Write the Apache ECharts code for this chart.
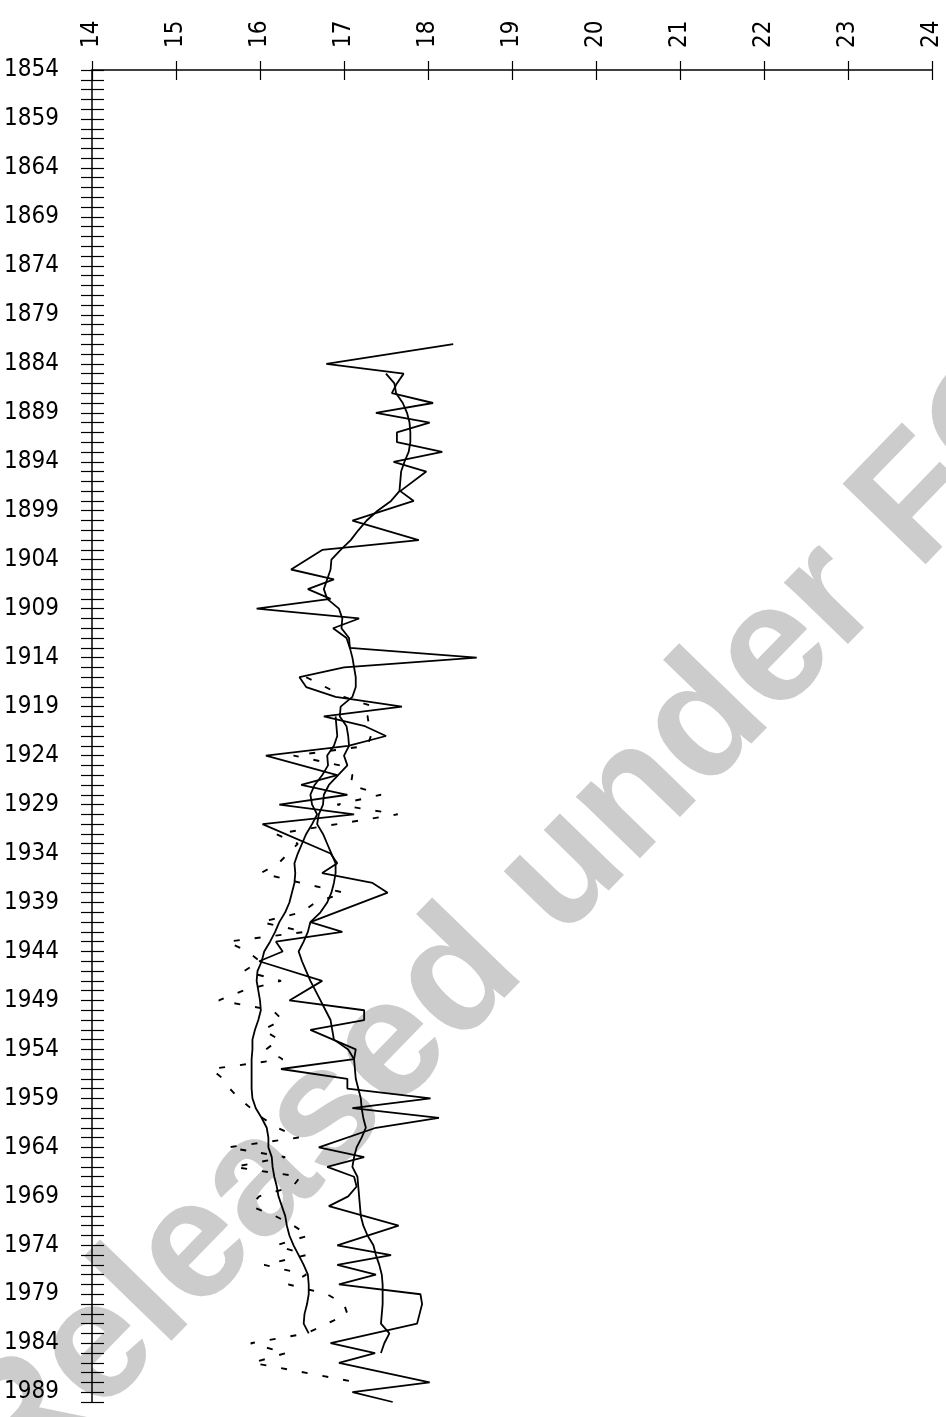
<!DOCTYPE html>
<html>
<head>
<meta charset="utf-8">
<script src="https://cdn.jsdelivr.net/npm/echarts@6/dist/echarts.min.js"></script>
<style>
  html, body { margin: 0; padding: 0; background: #ffffff; }
  #chart { width: 946px; height: 1417px; }
</style>
</head>
<body>
<div id="chart"></div>
<script>
// Year axis (vertical, downward) and value axis (horizontal, top)
const yearMin = 1854;
const yearMax = 1990;
const yearLabelStep = 5;
const valueMin = 14;
const valueMax = 24;

// Annual series 1 (solid), one entry per year from annualSolidStart; null = no point
const annualSolidStart = 1882;
const annualSolid = [
  18.30, null, 16.79, 17.71, 17.63, 17.57, 18.06, 17.38, 18.02, 17.63, // 1882-1891
  17.63, 18.17, 17.59, 17.98, null, 17.67, 17.83, null, 17.10, null,   // 1892-1901
  17.89, 16.74, null, 16.37, 16.88, 16.57, 16.84, 15.96, 17.18, 16.87, // 1902-1911
  17.03, 17.07, 18.58, 17.00, 16.47, 16.55, 16.90, 17.69, 16.76, 17.25, // 1912-1921
  17.50, 17.05, 16.07, null, 16.92, 16.49, 17.04, 16.23, 17.12, 16.03, // 1922-1931
  null, null, 16.84, 16.92, 16.74, 17.34, 17.52, null, null, 16.60,    // 1932-1941
  16.98, 16.19, 16.27, 15.99, null, 16.74, null, 16.35, 17.24, 17.24,  // 1942-1951
  16.60, null, 17.14, 17.12, 16.25, 17.04, 17.04, 18.03, 17.10, 18.13, // 1952-1961
  17.38, null, 16.70, 17.24, 16.80, 17.12, 17.15, 17.05, 16.82, null,  // 1962-1971
  17.65, null, 16.92, 17.56, 16.92, 17.38, 16.94, 17.91, 17.93, 17.90, // 1972-1981
  17.87, null, 16.84, 17.37, 16.94, null, 18.02, 17.10, 17.58          // 1982-1990
];

// Running mean of series 1 (solid, smooth)
const meanSolidStart = 1885;
const meanSolid = [
  17.50, 17.60, 17.62, 17.70, 17.75, 17.78, 17.79, 17.79, 17.77, 17.72, // 1885-1894
  17.68, 17.67, 17.66, 17.56, 17.40, 17.27, 17.17, 17.08, 16.96, 16.85, // 1895-1904
  16.84, 16.80, 16.76, 16.80, 16.94, 16.98, 16.97, 17.06, 17.07, 17.10, // 1905-1914
  17.12, 17.14, 17.14, 17.10, 16.96, 16.95, 17.03, 17.05, 17.06, 17.00, // 1915-1924
  17.04, 16.93, 16.82, 16.76, 16.75, 16.70, 16.68, 16.75, 16.80, 16.85, // 1925-1934
  16.90, 16.90, 16.88, 16.85, 16.80, 16.72, 16.60, 16.57, 16.52, 16.46, // 1935-1944
  16.50, 16.55, 16.60, 16.66, 16.72, 16.78, 16.84, 16.86, 16.88, 17.05, // 1945-1954
  17.12, 17.13, 17.14, 17.17, 17.20, 17.21, 17.23, 17.26, 17.21, 17.15, // 1955-1964
  17.12, 17.10, 17.16, 17.17, 17.18, 17.19, 17.20, 17.23, 17.28, 17.35, // 1965-1974
  17.38, 17.42, 17.45, 17.46, 17.46, 17.46, 17.45, 17.44, 17.54, 17.48, // 1975-1984
  17.44                                                                 // 1985
];

// Annual series 2 (dashed)
const annualDashedStart = 1916;
const annualDashed = [
  16.55, 16.78, 17.00, 17.35, 17.28, 17.30, 17.32, 17.28, 16.40, 16.95, // 1916-1925
  17.10, 17.08, 17.44, 16.92, 17.64, null, 16.19, 16.45, null, 16.22,  // 1926-1935
  16.01, 16.49, 17.00, 16.66, 16.50, 16.01, 16.54, 15.61, 15.85, 16.00, // 1936-1945
  15.81, 16.25, 15.80, 15.51, 16.15, 16.27, 16.03, 16.23, 16.07, 16.27, // 1946-1955
  15.42, 15.56, 15.64, 15.75, 15.89, 16.03, 16.21, 16.46, 15.62, 16.30, // 1956-1965
  15.69, 16.48, 16.39, 15.99, 15.89, 16.18, 16.40, 16.58, 16.19, 16.55, // 1966-1975
  16.05, 16.55, 16.34, 16.80, 17.00, 17.04, 16.80, 16.55, 15.89, 16.31, // 1976-1985
  15.91, null, 17.16                                                    // 1986-1988
];

// Running mean of series 2 (solid, smooth)
const meanDashedStart = 1920;
const meanDashed = [
  16.90, 16.91, 16.92, 16.88, 16.80, 16.81, 16.74, 16.65, 16.60, 16.62, // 1920-1929
  16.68, 16.62, 16.55, 16.50, 16.45, 16.41, 16.42, 16.41, 16.38, 16.35, // 1930-1939
  16.30, 16.23, 16.18, 16.12, 16.05, 16.02, 15.97, 15.96, 15.98, 16.00, // 1940-1949
  16.01, 15.98, 15.94, 15.91, 15.91, 15.90, 15.90, 15.90, 15.90, 15.91, // 1950-1959
  15.95, 16.02, 16.08, 16.10, 16.10, 16.14, 16.15, 16.17, 16.20, 16.22, // 1960-1969
  16.26, 16.30, 16.32, 16.35, 16.40, 16.46, 16.52, 16.57, 16.58, 16.58, // 1970-1979
  16.56, 16.53, 16.52, 16.58                                            // 1980-1983
];

// [value, year] pairs for a vertical-time line; missing years are skipped
function toPairs(start, values) {
  const out = [];
  values.forEach(function (v, i) {
    if (v !== null) out.push([v, start + i]);
  });
  return out;
}

const tickFont = '"Liberation Sans Narrow", "Arial Narrow", "DejaVu Sans Condensed", sans-serif';
const ink = '#000000';

function valueAxis(inside) {
  return {
    type: 'value',
    position: 'top',
    min: valueMin,
    max: valueMax,
    interval: 1,
    axisLine: { show: !inside, lineStyle: { color: ink, width: 1.5 } },
    axisTick: { show: true, inside: inside, length: inside ? 10 : 9, lineStyle: { color: ink, width: 1.2 } },
    axisLabel: {
      show: !inside,
      rotate: -90,
      margin: 22,
      fontFamily: tickFont,
      fontSize: 24,
      color: ink
    },
    splitLine: { show: false }
  };
}

function yearAxis(inside) {
  return {
    type: 'value',
    position: 'left',
    inverse: true,
    min: yearMin,
    max: yearMax,
    interval: 1,
    axisLine: { show: !inside, lineStyle: { color: ink, width: 1.5 } },
    axisTick: { show: true, inside: inside, length: inside ? 12 : 11, lineStyle: { color: ink, width: 1.2 } },
    axisLabel: {
      show: !inside,
      margin: 33,
      fontFamily: tickFont,
      fontSize: 24,
      color: ink,
      formatter: function (v) {
        return (v - yearMin) % yearLabelStep === 0 ? String(v) : '';
      }
    },
    splitLine: { show: false }
  };
}

function lineSeries(name, pairs, dashed) {
  return {
    name: name,
    type: 'line',
    xAxisIndex: 0,
    yAxisIndex: 0,
    data: pairs,
    symbol: 'none',
    z: 5,
    lineStyle: {
      color: ink,
      width: dashed ? 1.9 : 1.8,
      type: dashed ? [6, 15] : 'solid'
    }
  };
}

const chart = echarts.init(document.getElementById('chart'), null, { renderer: 'canvas' });

chart.setOption({
  animation: false,
  backgroundColor: '#ffffff',
  grid: { left: 92, right: 14, top: 70, bottom: 15, containLabel: false },
  xAxis: [valueAxis(false), valueAxis(true)],
  yAxis: [yearAxis(false), yearAxis(true)],
  graphic: [{
    type: 'text',
    x: 530,
    y: 905,
    rotation: 0.80,
    z: -10,
    silent: true,
    style: {
      text: 'Released under FOI',
      font: 'bold 168px "Liberation Sans", sans-serif',
      fill: '#cccccc',
      textAlign: 'center',
      textVerticalAlign: 'middle'
    }
  }],
  series: [
    lineSeries('annual 1', toPairs(annualSolidStart, annualSolid), false),
    lineSeries('mean 1', toPairs(meanSolidStart, meanSolid), false),
    lineSeries('annual 2', toPairs(annualDashedStart, annualDashed), true),
    lineSeries('mean 2', toPairs(meanDashedStart, meanDashed), false)
  ]
});
</script>
</body>
</html>
